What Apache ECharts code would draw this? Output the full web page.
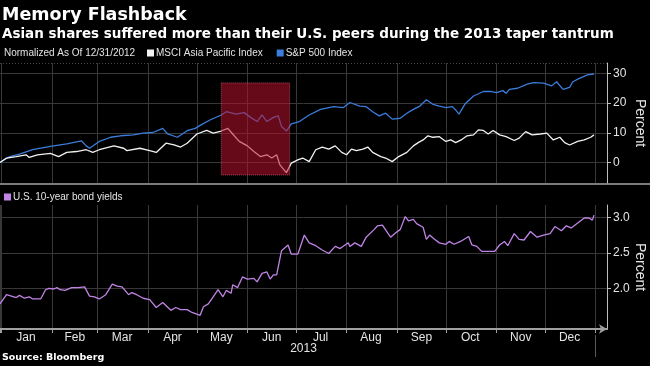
<!DOCTYPE html>
<html><head><meta charset="utf-8">
<script src="https://cdn.jsdelivr.net/npm/echarts@6/dist/echarts.min.js"></script>
<style>html,body{margin:0;padding:0;background:#000;}#c{width:650px;height:366px;}</style>
</head><body><div id="c"></div>
<script>
// ---- data ----
const monthLabels = ['Jan','Feb','Mar','Apr','May','Jun','Jul','Aug','Sep','Oct','Nov','Dec'];
const topTickLabels = [0, 10, 20, 30];
const bottomTickLabels = [2.0, 2.5, 3.0];

const spxDates = ['2012-12-31','2013-01-06','2013-01-12','2013-01-20','2013-01-31','2013-02-10','2013-02-19','2013-02-22','2013-02-24','2013-03-02','2013-03-09','2013-03-15','2013-03-23','2013-03-29','2013-04-04','2013-04-10','2013-04-13','2013-04-19','2013-04-25','2013-04-30','2013-05-03','2013-05-09','2013-05-16','2013-05-19','2013-05-25','2013-05-30','2013-06-03','2013-06-07','2013-06-10','2013-06-13','2013-06-17','2013-06-20','2013-06-22','2013-06-25','2013-06-28','2013-07-03','2013-07-09','2013-07-16','2013-07-24','2013-07-30','2013-08-03','2013-08-09','2013-08-13','2013-08-17','2013-08-21','2013-08-25','2013-08-29','2013-09-03','2013-09-07','2013-09-11','2013-09-15','2013-09-19','2013-09-23','2013-09-27','2013-10-01','2013-10-05','2013-10-07','2013-10-09','2013-10-13','2013-10-18','2013-10-24','2013-10-29','2013-11-01','2013-11-05','2013-11-07','2013-11-09','2013-11-14','2013-11-20','2013-11-24','2013-11-30','2013-12-05','2013-12-08','2013-12-12','2013-12-16','2013-12-18','2013-12-22','2013-12-27','2013-12-31'];
const spxValues = [0,2.0,2.8,4.3,5.4,6.3,7.3,5.6,4.8,7.1,8.5,9.0,9.3,9.9,10.1,11.5,9.6,8.5,10.7,11.5,12.5,14.3,16.0,17.1,16.3,16.8,15.2,13.8,16.0,13.8,15.2,15.7,12.1,10.6,13.0,13.8,16.0,17.9,18.8,18.5,20.2,19.0,18.8,17.1,15.7,16.6,14.6,14.9,16.6,17.9,19.0,21.1,19.6,19.0,18.5,18.8,17.7,16.3,19.9,22.4,23.9,23.9,23.5,24.2,23.3,24.6,25.0,26.4,26.9,26.7,25.8,27.2,24.6,25.3,27.2,28.3,29.5,29.8];

const asiaDates = ['2012-12-31','2013-01-04','2013-01-10','2013-01-16','2013-01-18','2013-01-23','2013-01-31','2013-02-05','2013-02-10','2013-02-16','2013-02-22','2013-02-26','2013-03-02','2013-03-11','2013-03-17','2013-03-19','2013-03-27','2013-04-02','2013-04-06','2013-04-12','2013-04-17','2013-04-21','2013-04-25','2013-05-01','2013-05-07','2013-05-11','2013-05-16','2013-05-20','2013-05-23','2013-05-27','2013-06-01','2013-06-05','2013-06-09','2013-06-13','2013-06-16','2013-06-19','2013-06-21','2013-06-25','2013-06-28','2013-07-02','2013-07-05','2013-07-09','2013-07-13','2013-07-17','2013-07-21','2013-07-25','2013-07-29','2013-08-01','2013-08-04','2013-08-07','2013-08-11','2013-08-14','2013-08-17','2013-08-22','2013-08-25','2013-08-29','2013-09-02','2013-09-07','2013-09-11','2013-09-14','2013-09-17','2013-09-20','2013-09-23','2013-09-27','2013-10-01','2013-10-04','2013-10-07','2013-10-11','2013-10-14','2013-10-18','2013-10-21','2013-10-24','2013-10-27','2013-10-30','2013-11-03','2013-11-07','2013-11-12','2013-11-15','2013-11-19','2013-11-23','2013-11-28','2013-12-02','2013-12-06','2013-12-10','2013-12-13','2013-12-16','2013-12-21','2013-12-25','2013-12-29','2013-12-31'];
const asiaValues = [0,1.5,2.0,2.6,1.7,2.6,3.1,2.0,3.4,3.7,4.3,3.4,4.3,5.6,4.8,4.0,4.8,4.0,3.4,6.5,5.9,5.2,6.5,9.6,10.8,9.9,10.6,11.5,9.6,7.1,5.6,3.7,2.0,2.6,1.5,2.6,-0.8,-3.4,-0.2,0.9,1.5,0.3,4.3,5.2,4.5,5.6,3.4,2.6,4.5,4.0,4.5,5.2,3.4,2.0,1.5,0.3,2.0,3.4,5.6,6.7,7.6,9.0,8.5,8.7,7.1,7.6,6.7,7.8,9.0,9.3,11.0,10.8,9.6,10.8,9.3,8.7,7.4,8.2,10.4,9.3,9.6,9.9,7.6,8.5,6.7,5.9,7.1,7.6,8.5,9.3];

const yieldDates = ['2012-12-31','2013-01-04','2013-01-07','2013-01-10','2013-01-12','2013-01-15','2013-01-18','2013-01-20','2013-01-25','2013-01-28','2013-01-30','2013-02-02','2013-02-04','2013-02-06','2013-02-09','2013-02-13','2013-02-17','2013-02-21','2013-02-24','2013-02-27','2013-03-02','2013-03-06','2013-03-10','2013-03-13','2013-03-16','2013-03-20','2013-03-22','2013-03-25','2013-03-29','2013-04-02','2013-04-06','2013-04-10','2013-04-15','2013-04-18','2013-04-21','2013-04-25','2013-04-28','2013-05-03','2013-05-05','2013-05-08','2013-05-11','2013-05-14','2013-05-17','2013-05-19','2013-05-22','2013-05-23','2013-05-26','2013-05-29','2013-06-01','2013-06-05','2013-06-07','2013-06-10','2013-06-13','2013-06-15','2013-06-17','2013-06-19','2013-06-22','2013-06-26','2013-06-28','2013-07-02','2013-07-06','2013-07-09','2013-07-13','2013-07-17','2013-07-21','2013-07-25','2013-07-28','2013-07-31','2013-08-02','2013-08-03','2013-08-06','2013-08-10','2013-08-13','2013-08-18','2013-08-20','2013-08-23','2013-08-28','2013-08-31','2013-09-03','2013-09-06','2013-09-08','2013-09-11','2013-09-13','2013-09-17','2013-09-19','2013-09-21','2013-09-24','2013-09-27','2013-10-01','2013-10-03','2013-10-06','2013-10-10','2013-10-15','2013-10-17','2013-10-20','2013-10-23','2013-10-27','2013-10-31','2013-11-03','2013-11-06','2013-11-08','2013-11-12','2013-11-15','2013-11-18','2013-11-22','2013-11-26','2013-11-30','2013-12-04','2013-12-07','2013-12-11','2013-12-14','2013-12-17','2013-12-21','2013-12-25','2013-12-28','2013-12-30','2013-12-31'];
const yieldValues = [1.78,1.91,1.89,1.87,1.90,1.86,1.88,1.85,1.85,1.98,2.00,1.99,2.01,1.98,1.97,2.01,2.01,2.02,1.89,1.88,1.85,1.91,2.06,2.03,2.02,1.91,1.94,1.91,1.86,1.84,1.73,1.80,1.69,1.73,1.70,1.70,1.66,1.62,1.74,1.78,1.88,1.98,1.88,1.97,1.93,2.05,2.01,2.16,2.13,2.14,2.09,2.21,2.23,2.13,2.19,2.19,2.53,2.61,2.48,2.48,2.75,2.64,2.60,2.54,2.49,2.59,2.56,2.61,2.64,2.59,2.64,2.59,2.72,2.83,2.88,2.89,2.72,2.78,2.83,3.01,2.95,2.97,2.91,2.86,2.69,2.75,2.69,2.64,2.62,2.66,2.62,2.66,2.73,2.61,2.59,2.52,2.52,2.52,2.61,2.66,2.60,2.77,2.69,2.68,2.80,2.72,2.75,2.77,2.87,2.81,2.88,2.85,2.92,2.99,2.99,2.96,3.03];

const tantrumStart = '2013-05-16';
const tantrumEnd = '2013-06-27';
const tantrumTop = 26.8;
const tantrumBottom = -4.2;

// ---- helpers ----
const T = s => { const p = s.split('-').map(Number); return new Date(p[0], p[1] - 1, p[2]).getTime(); };
const zip = (d, v) => d.map((x, i) => [T(x), v[i]]);
const xMin = T('2012-12-31'), xMax = T('2014-01-08');
const yearEnd = T('2014-01-01');
const monthTicks = [];
for (let m = 0; m <= 12; m++) monthTicks.push(new Date(2013, m, 1).getTime());
const monthMids = [];
for (let m = 0; m < 12; m++) monthMids.push(new Date(2013, m, m === 1 ? 15 : 16).getTime());

const SANS = "'Liberation Sans', Arial, sans-serif";
const BOLD = "'DejaVu Sans', sans-serif";
const GRID = '#383838';
const AX = '#bdbdbd';
const TXT = '#e4e4e4';

const chart = echarts.init(document.getElementById('c'), null, {renderer: 'canvas'});
chart.setOption({
  backgroundColor: '#000',
  animation: false,
  title: [
    {text: 'Memory Flashback', left: 2, top: 6, padding: 0,
     textStyle: {color: '#fff', fontSize: 17.5, fontWeight: 'bold', fontFamily: BOLD}},
    {text: 'Asian shares suffered more than their U.S. peers during the 2013 taper tantrum', left: 2, top: 27, padding: 0,
     textStyle: {color: '#fff', fontSize: 13.5, fontWeight: 'bold', fontFamily: BOLD}},
    {text: 'Normalized As Of 12/31/2012', left: 4, top: 48, padding: 0,
     textStyle: {color: TXT, fontSize: 10, fontWeight: 'normal', fontFamily: SANS}},
    {text: 'Source: Bloomberg', left: 2, top: 353, padding: 0,
     textStyle: {color: '#fff', fontSize: 9.5, fontWeight: 'bold', fontFamily: BOLD}}
  ],
  legend: [
    {data: ['MSCI Asia Pacific Index', 'S&P 500 Index'], left: 147, top: 48, padding: 0,
     icon: 'rect', itemWidth: 7, itemHeight: 7, itemGap: 14, selectedMode: false,
     textStyle: {color: TXT, fontSize: 10, fontFamily: SANS, padding: [0, 0, 0, -3]}},
    {data: ['U.S. 10-year bond yields'], left: 4, top: 192, padding: 0,
     icon: 'rect', itemWidth: 7, itemHeight: 7, selectedMode: false,
     textStyle: {color: TXT, fontSize: 10, fontFamily: SANS, padding: [0, 0, 0, -3]}}
  ],
  grid: [
    {left: 0, right: 43, top: 63, height: 120, outerBoundsMode: 'none', containLabel: false},
    {left: 0, right: 43, top: 205, height: 124, outerBoundsMode: 'none', containLabel: false}
  ],
  xAxis: [
    {type: 'value', gridIndex: 0, min: xMin, max: xMax,
     axisLine: {show: false}, axisTick: {show: false, customValues: monthTicks},
     axisLabel: {show: false}, splitLine: {show: true, lineStyle: {color: GRID}}},
    {type: 'value', gridIndex: 1, min: xMin, max: xMax,
     axisLine: {show: true, symbol: ['none', 'arrow'], symbolSize: [7, 8], lineStyle: {color: '#a0a0a0', width: 2}},
     axisTick: {show: true, customValues: [xMin].concat(monthTicks), length: 4, lineStyle: {color: '#a0a0a0'}},
     axisLabel: {customValues: monthMids, formatter: v => monthLabels[new Date(v).getMonth()],
                 color: TXT, fontSize: 12, fontFamily: SANS, margin: 3},
     splitLine: {show: true, lineStyle: {color: GRID}},
     name: '2013', nameLocation: 'middle', nameGap: 14, nameMoveOverlap: false,
     nameTextStyle: {color: TXT, fontSize: 12, fontFamily: SANS}},
    {type: 'value', gridIndex: 1, min: xMin, max: xMax, position: 'bottom', offset: 6,
     axisLine: {show: false},
     axisTick: {show: true, customValues: [yearEnd], length: 22, lineStyle: {color: '#5a5a5a'}},
     axisLabel: {show: false}, splitLine: {show: false}}
  ],
  yAxis: [
    {type: 'value', gridIndex: 0, position: 'right', min: -6.9, max: 33.5,
     axisLine: {show: true, lineStyle: {color: AX}},
     axisTick: {show: true, length: 4, customValues: topTickLabels, lineStyle: {color: AX}},
     axisLabel: {customValues: topTickLabels, color: TXT, fontSize: 12, fontFamily: SANS, margin: 6},
     splitLine: {show: true, lineStyle: {color: GRID}},
     name: 'Percent', nameLocation: 'middle', nameRotate: -90, nameGap: 26, nameMoveOverlap: false,
     nameTextStyle: {color: TXT, fontSize: 14, fontFamily: SANS}},
    {type: 'value', gridIndex: 1, position: 'right', min: 1.427, max: 3.173,
     axisLine: {show: true, lineStyle: {color: AX}},
     axisTick: {show: true, length: 4, customValues: bottomTickLabels, lineStyle: {color: AX}},
     axisLabel: {customValues: bottomTickLabels, formatter: v => v.toFixed(1), color: TXT, fontSize: 12, fontFamily: SANS, margin: 6},
     splitLine: {show: true, lineStyle: {color: GRID}},
     name: 'Percent', nameLocation: 'middle', nameRotate: -90, nameGap: 26, nameMoveOverlap: false,
     nameTextStyle: {color: TXT, fontSize: 14, fontFamily: SANS}}
  ],
  series: [
    {name: 'S&P 500 Index', type: 'line', xAxisIndex: 0, yAxisIndex: 0, data: zip(spxDates, spxValues),
     showSymbol: false, color: '#3b7ddb', lineStyle: {width: 1.3}, z: 2},
    {name: 'MSCI Asia Pacific Index', type: 'line', xAxisIndex: 0, yAxisIndex: 0, data: zip(asiaDates, asiaValues),
     showSymbol: false, color: '#f2f2f2', lineStyle: {width: 1.3}, z: 3,
     markArea: {silent: true, z: 10,
       itemStyle: {color: 'rgba(185,18,48,0.55)', borderColor: 'rgba(235,110,130,0.6)', borderWidth: 1, borderType: 'dotted'},
       data: [[{xAxis: T(tantrumStart), yAxis: tantrumTop}, {xAxis: T(tantrumEnd), yAxis: tantrumBottom}]]}},
    {name: 'U.S. 10-year bond yields', type: 'line', xAxisIndex: 1, yAxisIndex: 1, data: zip(yieldDates, yieldValues),
     showSymbol: false, color: '#c084e6', lineStyle: {width: 1.3}}
  ],
  graphic: [
    {type: 'line', shape: {x1: 0, y1: 184, x2: 650, y2: 184}, style: {stroke: '#7c7c7c', lineWidth: 2}, silent: true},
    {type: 'line', shape: {x1: 0, y1: 63.5, x2: 607, y2: 63.5}, style: {stroke: '#444', lineWidth: 1, lineDash: [1, 2]}, silent: true}
  ]
});
</script>
</body></html>
